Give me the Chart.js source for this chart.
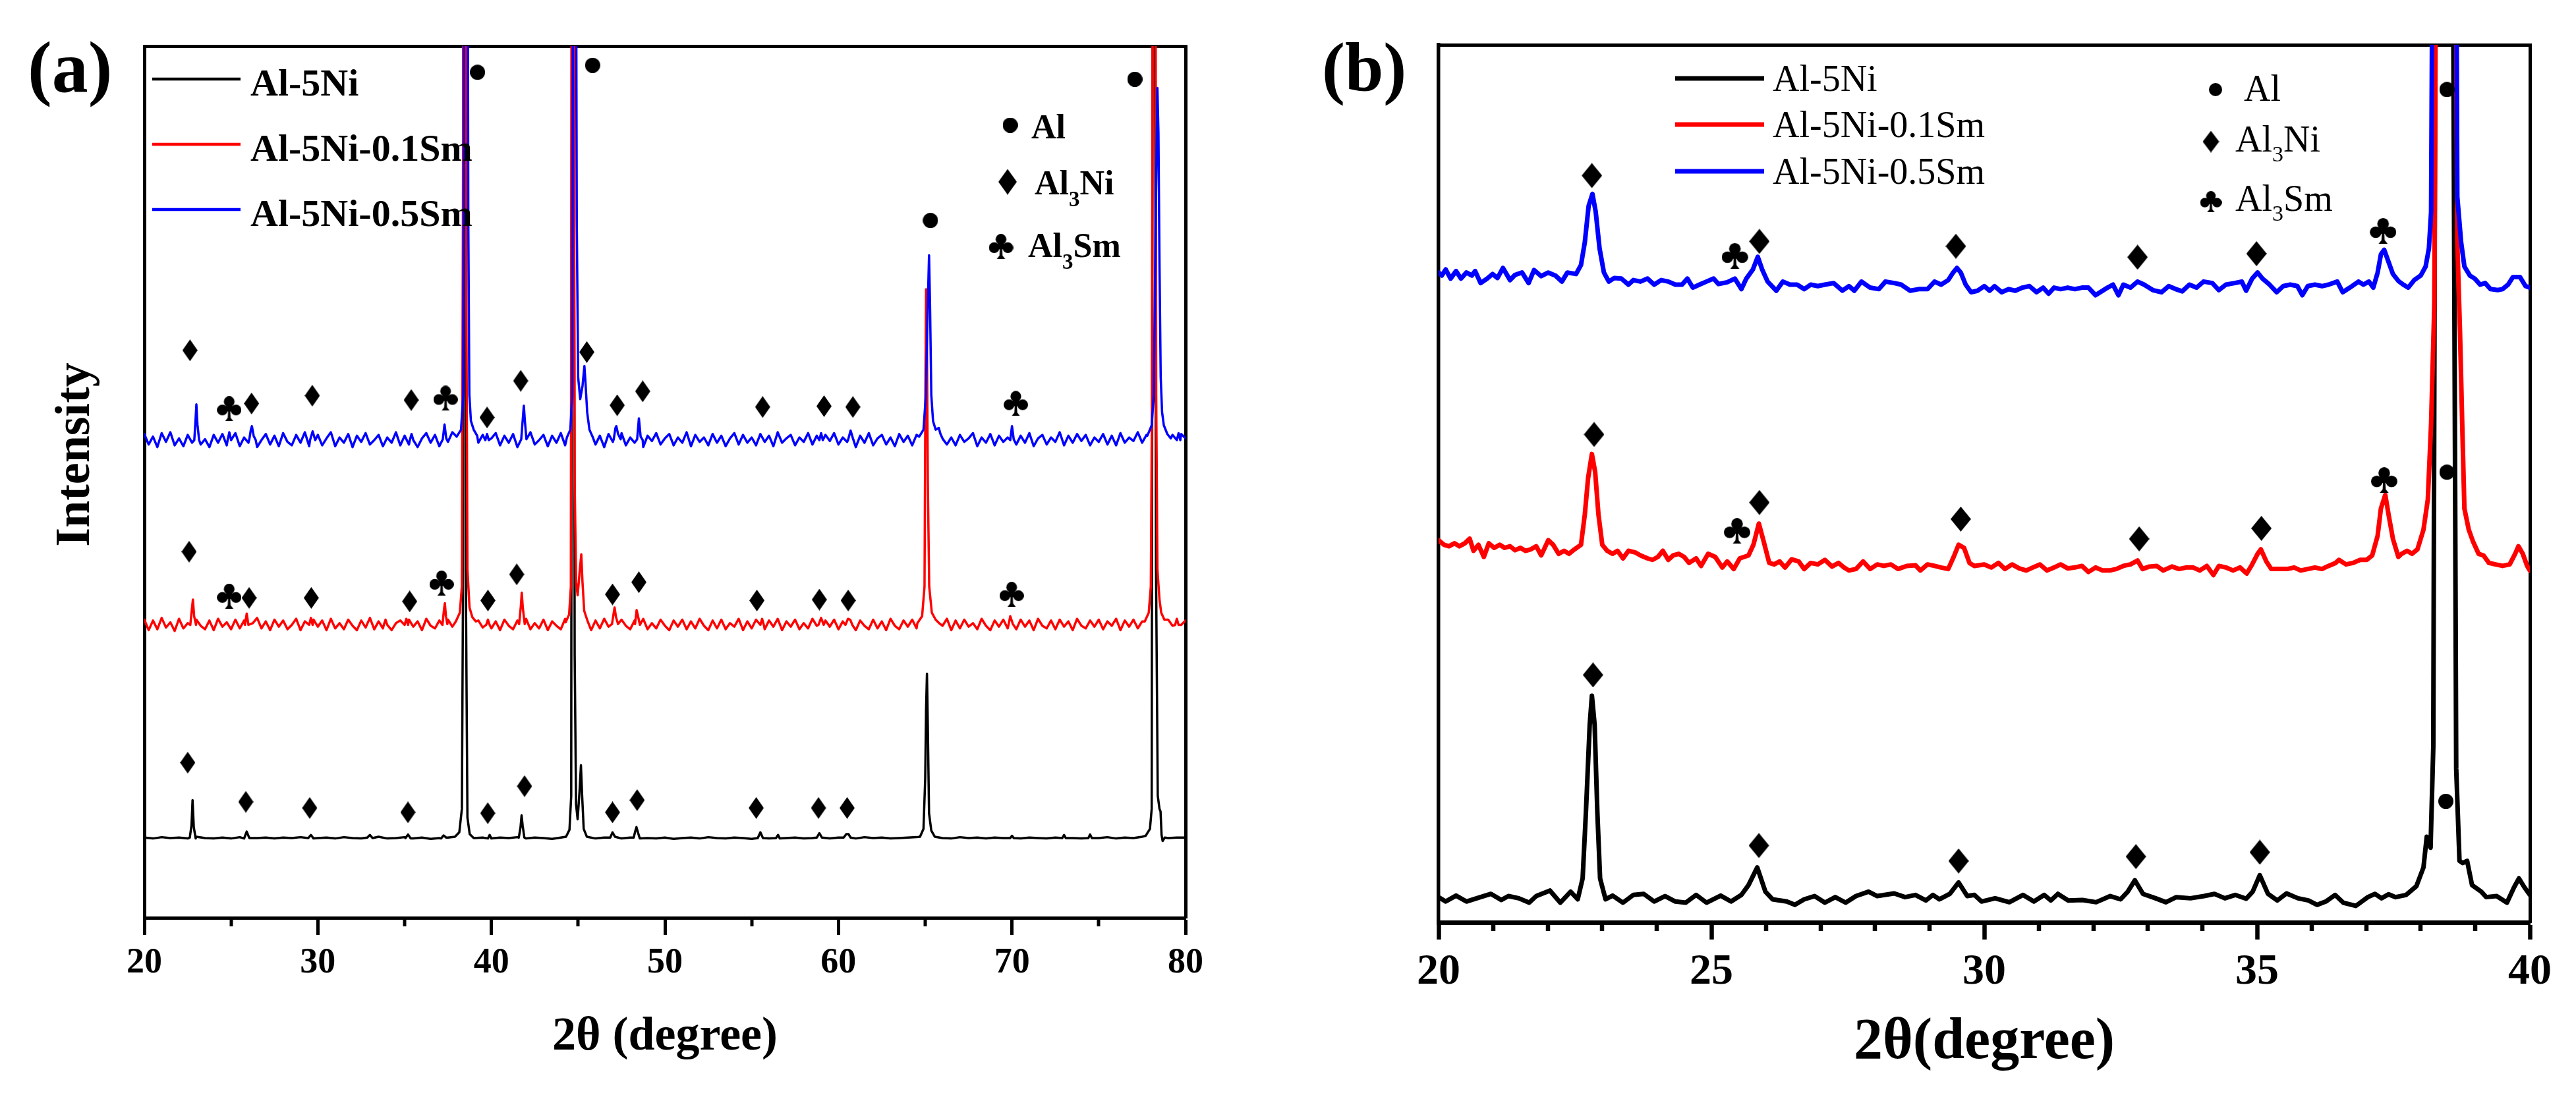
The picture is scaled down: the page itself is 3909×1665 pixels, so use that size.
<!DOCTYPE html>
<html lang="en">
<head>
<meta charset="UTF-8">
<title>XRD patterns Al-5Ni-xSm</title>
<script src="https://cdn.jsdelivr.net/npm/chart.js@4.4.1/dist/chart.umd.min.js"></script>
<style>
  html, body { margin: 0; padding: 0; background: #fff; }
  .panel { position: absolute; top: 0; height: 1665px; }
  #wrapA { left: 0; width: 1950px; }
  #wrapB { left: 1950px; width: 1959px; }
</style>
</head>
<body>
<div class="panel" id="wrapA"><canvas id="chartA"></canvas></div>
<div class="panel" id="wrapB"><canvas id="chartB"></canvas></div>
<script>
// ---------- panel (a): 20-80 deg, baselines read every 0.25 deg (black every 0.5 deg)
const seriesNames = ['Al-5Ni', 'Al-5Ni-0.1Sm', 'Al-5Ni-0.5Sm'];
const ticksA = [20, 30, 40, 50, 60, 70, 80];
const minorA = [25, 35, 45, 55, 65, 75];

const blueBaseA = [
  55.5,54.3,55.2,54.0,55.6,54.6,55.7,54.2,55.0,54.1,55.4,54.5,55.8,54.3,54.9,54.0,55.4,54.5,55.5,54.2,
  55.0,55.6,54.1,55.1,54.5,55.7,54.0,54.8,55.5,54.3,55.3,54.1,55.6,54.6,54.2,55.4,54.5,55.7,54.1,55.0,
  55.4,54.2,55.0,55.7,54.1,55.1,54.5,55.5,54.0,55.3,54.6,55.6,54.3,54.8,55.4,54.1,55.1,54.5,55.7,54.2,
  55.3,54.3,55.5,54.0,55.0,55.6,54.5,55.4,54.1,55.1,54.6,55.7,54.2,55.0,55.5,54.3,55.1,54.5,55.4,54.1,
  55.0,55.6,54.2,55.3,54.5,55.5,54.0,55.1,54.6,55.7,54.3,54.8,55.4,54.1,55.3,54.5,55.6,54.2,55.1,54.6,
  55.4,54.1,55.0,55.7,54.3,55.3,54.0,55.5,54.6,55.0,55.6,54.2,55.1,54.5,55.5,54.0,55.3,54.7,55.6,54.3,
  55.0,55.5,54.2,55.1,54.5,55.7,54.1,55.4,54.6,55.1,54.2,55.5,54.5,55.3,54.1,55.0,55.6,54.3,55.4,54.5,
  55.1,54.2,55.5,54.6,55.3,54.1,55.7,54.5,55.0,55.4,54.2,55.1,54.6,55.6,54.3,55.3,54.1,55.4,54.7,55.6,
  54.3,55.1,54.6,55.5,54.0,55.3,54.5,55.6,54.2,55.0,55.4,54.3,55.1,54.1,55.5,54.6,55.3,54.2,55.4,54.7,
  55.6,55.0,55.4,54.5,55.5,54.3,55.1,54.2,55.4,54.6,55.0,55.6,54.1,55.1,54.5,55.5,54.2,55.3,54.6,55.1,
  55.5,54.3,55.3,54.5,55.6,54.1,55.0,55.4,54.3,55.1,54.6,55.7,54.2,55.3,54.5,55.5,54.7,55.4,54.2,55.1,
  54.6,55.5,54.3,55.3,54.2,55.6,54.5,55.1,54.7,55.7,54.5,55.4,55.0,55.5,54.8,55.8,54.6,55.4,54.7,55.5,
  55.0
];
const redBaseA = [
  34.2,33.0,34.1,33.1,34.4,33.3,33.9,32.9,34.3,33.2,33.8,33.0,34.2,33.5,33.1,34.1,33.0,34.3,33.4,33.9,
  33.1,34.2,33.2,34.1,32.9,33.8,34.4,33.2,34.0,33.0,34.2,33.4,34.1,33.1,33.6,34.3,33.0,34.0,33.2,34.2,
  33.4,34.1,33.0,34.3,33.2,33.8,33.1,34.2,33.5,33.0,34.1,33.3,34.4,33.1,34.0,33.2,34.2,33.0,33.8,34.1,
  33.1,34.2,33.4,34.0,33.0,34.3,33.5,33.2,34.1,33.1,34.2,33.4,33.8,33.0,34.3,33.5,33.1,34.1,33.3,34.2,
  33.2,34.0,33.0,34.2,33.5,33.1,34.1,33.4,34.3,33.1,33.8,33.2,34.2,33.0,34.0,33.5,33.1,34.3,33.4,34.1,
  33.1,34.2,33.5,33.0,34.1,33.2,34.3,33.4,34.0,33.0,34.2,33.5,33.1,34.1,33.4,34.3,33.1,33.8,33.2,34.2,
  33.5,33.0,34.1,33.4,34.2,33.1,34.0,33.2,34.3,33.5,33.0,34.1,33.2,34.2,33.1,33.8,33.4,34.3,33.0,34.0,
  33.2,34.2,33.5,33.1,34.1,33.4,34.3,33.0,34.0,33.4,34.2,33.1,33.8,33.2,34.3,33.5,33.0,34.1,33.4,34.2,
  33.1,34.0,33.4,34.3,33.0,34.1,33.5,33.1,34.2,33.2,34.0,33.0,34.3,33.5,33.1,34.1,33.4,34.2,33.2,34.0,
  33.4,34.2,33.1,34.0,33.5,34.3,33.0,34.1,33.2,34.2,33.4,33.8,33.1,34.3,33.5,33.0,34.1,33.4,34.2,33.2,
  34.0,33.1,34.2,33.4,34.1,33.0,34.3,33.5,33.2,34.1,33.1,34.2,33.4,34.0,33.0,34.3,33.5,33.2,34.1,33.4,
  34.2,33.1,34.0,33.5,34.3,33.0,34.1,33.4,34.2,33.2,34.0,33.1,34.3,33.5,34.1,33.2,34.2,33.5,34.4,33.6,
  34.1
];
const blackBaseA = [
  9.2,9.1,9.25,9.15,9.2,9.1,9.3,9.15,9.1,9.2,9.1,9.25,9.05,9.15,9.2,9.1,9.2,9.15,9.25,9.1,
  9.15,9.2,9.1,9.25,9.15,9.1,9.2,9.3,9.1,9.15,9.25,9.1,9.2,9.05,9.15,9.2,9.1,9.25,9.15,9.2,
  9.1,9.2,9.15,9.25,9.1,9.2,9.15,9.05,9.2,9.1,9.15,9.25,9.1,9.2,9.15,9.1,9.2,9.25,9.15,9.1,
  9.2,9.05,9.15,9.2,9.1,9.25,9.15,9.1,9.2,9.15,9.05,9.2,9.1,9.25,9.15,9.2,9.1,9.15,9.25,9.1,
  9.2,9.15,9.1,9.25,9.15,9.2,9.1,9.15,9.2,9.25,9.1,9.2,9.15,9.1,9.25,9.15,9.2,9.1,9.2,9.15,
  9.25,9.1,9.2,9.15,9.1,9.2,9.25,9.15,9.1,9.2,9.15,9.25,9.1,9.2,9.15,9.3,9.2,9.25,9.15,9.2,
  9.2
];

// peaks of panel (a): each group is a run of [2theta, intensity]
const blackPeaksA = [
  [[22.62,9.2],[22.72,10.6],[22.78,13.5],[22.85,10.4],[22.96,9.1]],
  [[25.75,9.1],[25.9,9.9],[26.05,9.15]],
  [[29.45,9.15],[29.6,9.5],[29.75,9.1]],
  [[32.85,9.2],[33.0,9.5],[33.15,9.15]],
  [[35.05,9.15],[35.2,9.55],[35.35,9.1]],
  [[37.1,9.1],[37.25,9.45],[37.4,9.2]],
  [[37.9,9.3],[38.15,9.8],[38.3,12.5],[38.37,40],[38.41,130],[38.49,130],[38.54,35],[38.62,11.5],[38.75,9.6],[38.95,9.2]],
  [[39.8,9.1],[39.9,9.5],[40.0,9.1]],
  [[41.58,9.2],[41.68,10.4],[41.74,11.75],[41.8,10.6],[41.9,9.2]],
  [[44.3,9.3],[44.5,10.1],[44.6,14],[44.65,130],[44.73,130],[44.8,30],[44.88,13],[44.97,11.3],[45.08,14.5],[45.16,17.5],[45.23,14],[45.32,10.2],[45.5,9.3]],
  [[46.85,9.2],[46.98,9.8],[47.12,9.3]],
  [[48.2,9.2],[48.3,10.0],[48.36,10.4],[48.43,9.9],[48.55,9.1]],
  [[55.35,9.15],[55.5,9.8],[55.65,9.15]],
  [[56.4,9.15],[56.52,9.5],[56.62,9.1]],
  [[58.75,9.2],[58.9,9.7],[59.05,9.2]],
  [[60.3,9.2],[60.45,9.6],[60.58,9.6],[60.7,9.2]],
  [[64.7,9.3],[64.9,10.2],[65.0,16],[65.05,24],[65.1,28],[65.15,22],[65.22,12],[65.35,10],[65.55,9.3]],
  [[69.9,9.15],[70.0,9.4],[70.1,9.15]],
  [[72.9,9.15],[73.0,9.5],[73.1,9.15]],
  [[74.4,9.15],[74.5,9.55],[74.6,9.15]],
  [[77.7,9.4],[77.95,10.2],[78.05,12.5],[78.12,130],[78.22,130],[78.3,40],[78.4,14],[78.5,12.5],[78.56,12.2],[78.62,9.5],[78.68,8.8],[78.8,9.2]]
];
const redPeaksA = [
  [[22.65,33.6],[22.74,35.4],[22.8,36.5],[22.87,34.6],[22.98,33.6]],
  [[25.8,33.6],[25.9,34.9],[26.0,33.6]],
  [[29.5,33.6],[29.6,34.4],[29.7,33.6]],
  [[33.8,33.6],[33.9,34.2],[34.0,33.6]],
  [[35.0,33.6],[35.1,34.3],[35.2,33.6]],
  [[37.18,33.6],[37.27,35.4],[37.32,36.1],[37.38,34.6],[37.46,33.7]],
  [[37.95,34.0],[38.18,35.0],[38.3,38],[38.36,80],[38.4,130],[38.52,130],[38.56,70],[38.62,40],[38.74,35.6],[38.9,34.5],[39.1,34.0]],
  [[39.7,33.6],[39.8,34.2],[39.9,33.6]],
  [[41.6,33.7],[41.7,35.8],[41.75,37.3],[41.81,35.6],[41.92,33.7]],
  [[44.28,33.9],[44.48,34.8],[44.58,38],[44.63,130],[44.73,130],[44.8,50],[44.88,38.5],[44.97,37],[45.1,40],[45.18,41.7],[45.25,38.5],[45.35,35.2],[45.55,34.0]],
  [[46.95,33.7],[47.05,35.0],[47.1,35.6],[47.18,34.5],[47.3,33.7]],
  [[48.28,33.7],[48.37,35.3],[48.45,34.6],[48.56,33.6]],
  [[55.5,33.6],[55.6,34.3],[55.7,33.6]],
  [[58.85,33.6],[59.0,34.4],[59.15,33.6]],
  [[60.4,33.6],[60.55,34.3],[60.68,34.2],[60.8,33.6]],
  [[64.55,33.8],[64.82,34.6],[64.96,38],[65.01,60],[65.05,72.1],[65.09,68],[65.15,50],[65.23,38],[65.38,35],[65.6,34.2],[65.8,33.8]],
  [[69.8,33.6],[69.9,34.6],[70.05,33.7]],
  [[77.65,34.0],[77.88,35.0],[78.0,38],[78.07,60],[78.12,130],[78.26,130],[78.31,60],[78.38,40],[78.5,36.5],[78.6,35.0],[78.78,34.2]],
  [[79.4,33.6],[79.5,34.3],[79.6,33.6]]
];
const bluePeaksA = [
  [[22.88,54.8],[22.96,57.4],[23.0,58.9],[23.06,56.6],[23.16,54.8]],
  [[24.8,54.8],[24.9,55.7],[25.0,54.8]],
  [[26.05,54.9],[26.14,56.0],[26.2,56.4],[26.3,55.3],[26.42,54.8]],
  [[29.55,54.8],[29.7,55.8],[29.85,54.8]],
  [[35.3,54.8],[35.4,55.5],[35.5,54.8]],
  [[37.2,54.9],[37.3,56.6],[37.4,55.0]],
  [[38.0,55.2],[38.25,56.0],[38.38,60],[38.45,130],[38.62,130],[38.67,80],[38.73,60],[38.82,57],[38.98,56],[39.18,55.3]],
  [[39.65,54.8],[39.75,55.5],[39.85,54.8]],
  [[41.72,54.9],[41.82,57.5],[41.87,58.75],[41.93,57.0],[42.02,54.9]],
  [[44.35,55.1],[44.55,56],[44.66,60],[44.72,130],[44.86,130],[44.92,80],[45.0,62],[45.12,59.5],[45.25,61],[45.36,63.3],[45.42,61.5],[45.52,58],[45.65,56],[45.85,55.1]],
  [[47.05,54.9],[47.15,56.2],[47.2,56.4],[47.3,55.5],[47.45,54.9]],
  [[48.4,54.9],[48.5,57.3],[48.6,55.2],[48.72,54.8]],
  [[58.9,54.8],[59.0,55.6],[59.1,54.8]],
  [[60.55,54.8],[60.7,55.9],[60.85,54.9]],
  [[64.65,55.2],[64.9,56.0],[65.04,60],[65.12,68],[65.22,76],[65.28,70],[65.35,60],[65.45,57],[65.6,56],[65.78,56.2],[65.88,55.5],[66.02,54.9]],
  [[69.9,54.8],[70.0,56.4],[70.1,54.9]],
  [[77.8,55.3],[78.05,56.5],[78.17,60],[78.28,80],[78.38,95.2],[78.44,90],[78.5,75],[78.57,62],[78.65,58],[78.75,56.5],[78.95,55.5],[79.15,55.0]],
  [[79.5,54.8],[79.6,55.6],[79.7,54.8]]
];

// phase markers of panel (a)
const dotsA = [[39.2,97.0],[45.83,97.8],[65.3,80.0],[77.08,96.2]];
const diamondsA = [
  [22.63,65.1],[26.18,59.0],[29.68,59.9],[35.38,59.4],[39.75,57.4],[41.69,61.6],[45.5,64.9],[47.25,58.8],[48.72,60.4],[55.63,58.6],[59.17,58.7],[60.83,58.6],
  [22.58,42.0],[26.04,36.7],[29.62,36.7],[35.29,36.3],[39.8,36.4],[41.46,39.4],[46.98,37.1],[48.5,38.5],[55.3,36.4],[58.9,36.5],[60.56,36.4],
  [22.5,17.8],[25.85,13.3],[29.53,12.6],[35.19,12.1],[39.79,12.0],[41.91,15.1],[46.98,12.1],[48.4,13.5],[55.26,12.6],[58.85,12.6],[60.5,12.6]
];
const clubsA = [[24.89,58.4],[37.36,59.6],[70.22,59.0],[24.89,36.9],[37.13,38.4],[69.98,37.1]];

// ---------- panel (b): 20-40 deg
const ticksB = [20, 25, 30, 35, 40];
const minorB = [21,22,23,24,26,27,28,29,31,32,33,34,36,37,38,39];

const blackB = [
  [20.00,2.88],[20.13,2.38],[20.32,3.05],[20.51,2.38],[20.70,2.75],[20.96,3.25],[21.15,2.55],[21.28,3.00],[21.47,2.75],[21.66,2.25],
  [21.79,3.00],[22.04,3.63],[22.23,2.25],[22.42,3.50],[22.55,2.63],[22.64,5.01],[22.70,12.51],[22.77,22.52],[22.81,25.83],[22.86,22.52],
  [22.91,12.51],[22.96,5.01],[23.06,2.63],[23.19,3.05],[23.38,2.25],[23.57,3.13],[23.76,3.25],[23.95,2.38],[24.15,3.00],[24.34,2.38],
  [24.53,2.25],[24.72,3.13],[24.91,2.25],[25.17,3.05],[25.36,2.38],[25.55,3.13],[25.68,4.25],[25.84,6.26],[25.99,3.50],[26.12,2.63],
  [26.38,2.38],[26.53,2.00],[26.70,2.63],[26.89,3.00],[27.08,2.25],[27.27,2.88],[27.46,2.25],[27.65,3.00],[27.88,3.50],[28.04,3.00],
  [28.35,3.30],[28.55,2.88],[28.74,3.13],[28.93,2.50],[29.06,3.13],[29.18,2.63],[29.37,3.25],[29.53,4.55],[29.69,3.00],[29.82,3.13],
  [29.95,2.38],[30.20,2.75],[30.46,2.30],[30.71,3.13],[30.91,2.38],[31.10,3.13],[31.22,2.50],[31.35,3.25],[31.54,2.50],[31.80,2.55],
  [32.05,2.30],[32.31,3.00],[32.50,2.63],[32.63,3.50],[32.76,4.80],[32.91,3.25],[33.14,2.75],[33.33,2.30],[33.52,2.88],[33.78,2.75],
  [34.03,3.00],[34.22,3.25],[34.41,2.75],[34.60,3.13],[34.80,2.70],[34.92,3.50],[35.05,5.38],[35.20,3.25],[35.37,2.50],[35.54,3.30],
  [35.75,2.75],[35.94,2.50],[36.10,2.00],[36.26,2.38],[36.43,3.13],[36.58,2.25],[36.81,1.88],[37.03,2.88],[37.16,3.25],[37.28,2.75],
  [37.41,3.20],[37.54,2.88],[37.73,3.13],[37.92,4.13],[38.05,6.26],[38.11,9.76],[38.18,8.51],[38.23,20.02],[38.28,130],[38.58,130],
  [38.65,17.52],[38.71,7.01],[38.77,6.76],[38.85,7.01],[38.94,4.25],[39.11,3.50],[39.20,2.88],[39.39,3.00],[39.58,2.25],[39.71,4.00],
  [39.80,5.01],[39.90,4.00],[40.00,3.13]
];
const redB = [
  [20.00,43.55],[20.10,43.03],[20.19,42.86],[20.29,43.20],[20.38,42.86],[20.48,43.20],[20.57,43.72],[20.64,42.34],[20.73,43.03],[20.83,41.65],
  [20.92,43.20],[21.02,42.68],[21.12,43.03],[21.21,42.68],[21.31,42.86],[21.40,42.41],[21.50,42.68],[21.59,42.34],[21.69,42.51],[21.79,42.86],
  [21.88,41.82],[22.01,43.55],[22.10,43.03],[22.20,42.00],[22.30,42.34],[22.39,42.00],[22.49,42.51],[22.61,43.03],[22.68,46.48],[22.74,50.61],
  [22.81,53.37],[22.87,51.30],[22.93,46.48],[23.00,43.03],[23.09,42.34],[23.19,42.00],[23.28,42.34],[23.38,41.48],[23.48,42.34],[23.60,42.17],
  [23.70,41.82],[23.83,41.48],[23.92,41.31],[24.02,41.65],[24.11,42.34],[24.21,41.31],[24.30,41.82],[24.40,42.00],[24.50,41.65],[24.59,40.96],
  [24.72,41.48],[24.81,40.62],[24.94,42.00],[25.07,41.65],[25.20,40.44],[25.29,41.13],[25.41,40.27],[25.52,41.48],[25.68,41.82],[25.77,43.03],
  [25.87,45.44],[25.96,43.37],[26.06,40.96],[26.15,40.79],[26.25,41.13],[26.35,40.44],[26.47,41.37],[26.60,41.13],[26.70,40.27],[26.82,40.96],
  [26.95,40.79],[27.08,41.31],[27.21,40.55],[27.33,40.96],[27.43,40.44],[27.52,40.10],[27.65,40.27],[27.78,41.13],[27.91,40.27],[28.04,40.79],
  [28.16,40.62],[28.29,40.79],[28.42,40.27],[28.58,40.62],[28.74,40.69],[28.83,40.10],[28.96,40.79],[29.09,40.62],[29.21,40.44],[29.34,40.27],
  [29.44,41.65],[29.53,43.03],[29.63,42.68],[29.73,40.96],[29.82,40.62],[30.00,40.79],[30.13,40.44],[30.26,40.96],[30.38,40.27],[30.51,40.79],
  [30.64,40.34],[30.77,40.10],[30.89,40.44],[31.02,40.79],[31.15,40.10],[31.28,40.44],[31.40,40.79],[31.53,40.34],[31.66,40.44],[31.79,40.62],
  [31.91,39.93],[32.04,40.44],[32.17,40.10],[32.30,40.10],[32.42,40.27],[32.55,40.62],[32.68,40.79],[32.81,41.24],[32.90,40.27],[33.03,40.55],
  [33.16,40.62],[33.28,40.10],[33.44,40.55],[33.57,40.27],[33.70,40.44],[33.83,40.44],[33.95,40.10],[34.08,40.62],[34.20,39.58],[34.30,40.62],
  [34.43,40.44],[34.56,40.10],[34.69,40.44],[34.81,39.75],[34.91,40.79],[35.01,42.00],[35.07,42.51],[35.17,41.13],[35.26,40.27],[35.42,40.27],
  [35.55,40.27],[35.68,40.44],[35.80,40.10],[35.93,40.27],[36.06,40.44],[36.19,40.27],[36.31,40.62],[36.44,40.96],[36.50,41.31],[36.63,40.79],
  [36.76,40.96],[36.89,41.31],[37.01,41.31],[37.11,41.82],[37.21,44.06],[37.27,47.17],[37.35,48.72],[37.41,46.48],[37.49,43.72],[37.59,41.65],
  [37.65,42.00],[37.75,42.34],[37.84,42.00],[37.94,42.51],[38.05,44.75],[38.13,48.20],[38.19,56.82],[38.25,70.60],[38.29,130],[38.63,130],
  [38.67,77.50],[38.72,67.16],[38.76,56.82],[38.80,47.17],[38.88,44.75],[38.96,43.37],[39.06,42.00],[39.15,41.82],[39.25,40.96],[39.37,40.79],
  [39.50,40.62],[39.63,40.79],[39.73,42.00],[39.79,42.86],[39.87,42.00],[39.95,40.62],[40.00,40.10]
];
const blueB = [
  [20.00,74.05],[20.06,73.71],[20.13,74.40],[20.22,73.36],[20.32,74.22],[20.41,73.36],[20.51,74.05],[20.61,73.71],[20.67,74.22],[20.77,72.85],
  [20.89,73.36],[20.99,73.88],[21.08,73.43],[21.18,74.57],[21.31,73.19],[21.40,73.78],[21.53,74.05],[21.65,72.85],[21.75,74.33],[21.88,73.64],
  [22.01,74.05],[22.14,73.71],[22.26,73.02],[22.36,74.05],[22.52,73.88],[22.61,74.91],[22.68,77.50],[22.75,81.64],[22.82,83.01],[22.88,80.95],
  [22.95,76.81],[23.03,74.05],[23.12,73.02],[23.22,73.43],[23.35,73.36],[23.48,72.67],[23.57,73.19],[23.70,73.02],[23.83,73.36],[23.95,72.67],
  [24.08,73.19],[24.21,73.02],[24.34,72.67],[24.46,72.67],[24.56,73.36],[24.66,72.33],[24.78,72.67],[24.91,73.02],[25.04,73.36],[25.13,72.74],
  [25.29,72.95],[25.43,73.36],[25.55,72.16],[25.64,73.36],[25.76,74.40],[25.85,75.84],[25.93,74.40],[26.03,73.02],[26.19,71.98],[26.31,73.02],
  [26.44,72.67],[26.57,72.67],[26.70,72.16],[26.82,72.67],[26.95,72.50],[27.08,72.67],[27.24,72.85],[27.40,71.98],[27.52,72.50],[27.62,71.98],
  [27.75,73.02],[27.91,72.33],[28.07,72.16],[28.19,73.02],[28.35,72.85],[28.48,72.67],[28.64,71.98],[28.80,72.16],[28.96,72.16],[29.09,73.02],
  [29.21,72.67],[29.34,73.19],[29.43,74.05],[29.50,74.57],[29.57,74.05],[29.66,72.67],[29.76,71.81],[29.88,71.98],[30.00,72.50],[30.10,71.98],
  [30.19,72.50],[30.32,71.81],[30.45,72.16],[30.57,71.98],[30.70,72.33],[30.83,72.50],[30.96,71.81],[31.08,72.33],[31.18,71.64],[31.28,72.33],
  [31.40,72.16],[31.53,72.33],[31.66,72.16],[31.79,72.33],[31.91,72.33],[32.04,71.47],[32.17,71.98],[32.26,72.33],[32.36,72.67],[32.46,71.47],
  [32.55,72.67],[32.68,72.33],[32.81,73.02],[32.93,72.67],[33.09,72.05],[33.25,71.81],[33.38,72.50],[33.51,72.16],[33.63,71.91],[33.76,72.67],
  [33.89,72.33],[34.02,73.02],[34.18,72.85],[34.30,72.05],[34.43,72.67],[34.59,72.85],[34.72,73.02],[34.80,71.98],[34.91,73.36],[35.01,74.05],
  [35.10,73.36],[35.23,72.67],[35.36,71.81],[35.48,72.50],[35.61,72.67],[35.74,72.50],[35.83,71.47],[35.93,72.50],[36.06,72.67],[36.19,72.50],
  [36.31,72.67],[36.47,73.02],[36.57,71.81],[36.70,72.33],[36.86,73.02],[36.95,72.67],[37.05,73.02],[37.13,72.33],[37.21,74.05],[37.27,76.12],
  [37.33,76.64],[37.40,75.43],[37.49,73.88],[37.59,73.09],[37.68,72.67],[37.77,72.33],[37.88,73.19],[38.00,73.71],[38.09,74.74],[38.15,76.81],
  [38.19,80.95],[38.23,130],[38.64,130],[38.67,82.67],[38.74,77.50],[38.80,74.74],[38.90,73.71],[38.99,73.36],[39.09,72.67],[39.18,72.85],
  [39.28,72.16],[39.41,72.05],[39.50,72.16],[39.60,72.67],[39.69,73.54],[39.82,73.54],[39.92,72.50],[40.00,72.33]
];

const dotsB = [[38.48,94.9],[38.48,51.3],[38.46,13.8]];
const diamondsB = [
  [22.81,85.1],[25.88,77.6],[29.48,77.05],[32.81,75.8],[34.99,76.2],
  [22.85,55.6],[25.88,47.85],[29.57,45.96],[32.84,43.7],[35.08,44.9],
  [22.83,28.2],[25.87,8.76],[29.53,7.0],[32.78,7.5],[35.05,8.0]
];
const clubsB = [[25.43,75.95],[37.31,78.8],[25.47,44.6],[37.33,50.4]];

const phaseNames = [['Al'], ['Al', '3', 'Ni'], ['Al', '3', 'Sm']];

// ---------- helpers
const SERIF = "'Liberation Serif', 'Times New Roman', serif";
const COLORS = ['#000000', '#ff0000', '#0000ff'];

function makeMark(kind, w, h) {
  const c = document.createElement('canvas');
  c.width = w; c.height = h;
  const g = c.getContext('2d');
  g.fillStyle = '#000';
  const blob = (x, y, r) => { g.beginPath(); g.arc(x, y, r, 0, Math.PI * 2); g.fill(); };
  if (kind === 'diamond') {
    g.beginPath();
    g.moveTo(w / 2, 0); g.lineTo(w, h / 2); g.lineTo(w / 2, h); g.lineTo(0, h / 2);
    g.closePath(); g.fill();
  } else if (kind === 'dot') {
    g.beginPath(); g.ellipse(w / 2, h / 2, w / 2, h / 2, 0, 0, Math.PI * 2); g.fill();
  } else {
    const r = w * 0.22;
    blob(w / 2, r, r);
    blob(r, h * 0.55, r);
    blob(w - r, h * 0.55, r);
    blob(w / 2, h * 0.47, r * 0.7);
    g.beginPath();
    g.moveTo(w / 2 - w * 0.04, h * 0.5);
    g.lineTo(w / 2 + w * 0.04, h * 0.5);
    g.lineTo(w / 2 + w * 0.06, h * 0.86);
    g.lineTo(w / 2 + w * 0.17, h);
    g.lineTo(w / 2 - w * 0.17, h);
    g.lineTo(w / 2 - w * 0.06, h * 0.86);
    g.closePath(); g.fill();
  }
  return c;
}

// baseline grid + peak runs -> one sorted trace
function buildTrace(base, step, peaks) {
  const pts = [];
  base.forEach((y, i) => {
    const x = 20 + i * step;
    const inPeak = peaks.some(p => x >= p[0][0] && x <= p[p.length - 1][0]);
    if (!inPeak) pts.push({ x, y });
  });
  peaks.forEach(p => p.forEach(([x, y]) => pts.push({ x, y })));
  return pts.sort((a, b) => a.x - b.x);
}
const toXY = arr => arr.map(([x, y]) => ({ x, y }));

function traceSet(label, data, color, width, order) {
  return {
    label, data, showLine: true, borderColor: color, backgroundColor: color,
    borderWidth: width, pointRadius: 0, tension: 0, order,
    borderJoinStyle: 'round', borderCapStyle: 'round'
  };
}
function markSet(label, data, img) {
  return { label, data: toXY(data), showLine: false, pointStyle: img, pointRadius: 12, order: 0 };
}

function frameAxis(pos, size) {
  const s = {
    type: 'linear', position: pos, min: 0, max: 1,
    ticks: { display: false },
    grid: { drawOnChartArea: false, drawTicks: false },
    border: { color: '#000', width: 5 }
  };
  if (pos === 'top') s.afterFit = a => { a.height = size; };
  else s.afterFit = a => { a.width = size; };
  return s;
}

// minor ticks, panel letter, y title and the two legends
function decor(cfg) {
  return {
    id: 'decor',
    afterDraw(chart) {
      const ctx = chart.ctx;
      const xs = chart.scales.x;
      ctx.save();
      ctx.strokeStyle = '#000';
      ctx.lineWidth = cfg.minorWidth;
      cfg.minor.forEach(v => {
        const px = Math.round(xs.getPixelForValue(v));
        ctx.beginPath();
        ctx.moveTo(px, xs.top);
        ctx.lineTo(px, xs.top + cfg.minorLen);
        ctx.stroke();
      });
      ctx.fillStyle = '#000';
      ctx.textAlign = 'left';
      ctx.textBaseline = 'alphabetic';
      ctx.font = cfg.label.font;
      ctx.fillText(cfg.label.text, cfg.label.x, cfg.label.y);
      if (cfg.yTitle) {
        ctx.save();
        ctx.translate(cfg.yTitle.x, cfg.yTitle.y);
        ctx.rotate(-Math.PI / 2);
        ctx.textAlign = 'center';
        ctx.textBaseline = 'middle';
        ctx.font = cfg.yTitle.font;
        ctx.fillText(cfg.yTitle.text, 0, 0);
        ctx.restore();
      }
      const sl = cfg.series;
      seriesNames.forEach((name, i) => {
        const y = sl.y[i];
        ctx.strokeStyle = COLORS[i];
        ctx.lineWidth = sl.lineWidth;
        ctx.beginPath();
        ctx.moveTo(sl.x1, y);
        ctx.lineTo(sl.x2, y);
        ctx.stroke();
        ctx.font = sl.font;
        ctx.fillText(name, sl.textX, y + sl.dy);
      });
      const ph = cfg.phases;
      phaseNames.forEach((parts, i) => {
        const img = ph.imgs[i];
        ctx.drawImage(img, ph.cx[i] - img.width / 2, ph.cy[i] - img.height / 2);
        let x = ph.textX[i];
        parts.forEach((t, k) => {
          const sub = k === 1;
          ctx.font = sub ? ph.subFont : ph.font;
          ctx.fillText(t, x, ph.base[i] + (sub ? ph.subDy : 0));
          x += ctx.measureText(t).width;
        });
      });
      ctx.restore();
    }
  };
}

const baseOptions = {
  responsive: true, maintainAspectRatio: false, animation: false, devicePixelRatio: 1,
  events: [],
  layout: { padding: 0 },
  plugins: { legend: { display: false }, tooltip: { enabled: false } }
};

// ---------- chart (a)
const diaA = makeMark('diamond', 23, 33);
const dotA = makeMark('dot', 23, 23);
const clubA = makeMark('club', 37, 38);

new Chart(document.getElementById('chartA'), {
  type: 'scatter',
  data: {
    datasets: [
      traceSet(seriesNames[0], buildTrace(blackBaseA, 0.5, blackPeaksA), COLORS[0], 3.5, 3),
      traceSet(seriesNames[1], buildTrace(redBaseA, 0.25, redPeaksA), COLORS[1], 3.5, 2),
      traceSet(seriesNames[2], buildTrace(blueBaseA, 0.25, bluePeaksA), COLORS[2], 3.5, 1),
      markSet('Al', dotsA, dotA),
      markSet('Al3Ni', diamondsA, diaA),
      markSet('Al3Sm', clubsA, clubA)
    ]
  },
  options: {
    ...baseOptions,
    scales: {
      x: {
        type: 'linear', position: 'bottom', min: 20, max: 80,
        afterBuildTicks: s => { s.ticks = ticksA.map(v => ({ value: v })); },
        ticks: { color: '#000', padding: 11, maxRotation: 0, autoSkip: false,
                 font: { family: SERIF, weight: 'bold', size: 54 } },
        grid: { drawOnChartArea: false, tickLength: 26, tickWidth: 5, tickColor: '#000' },
        border: { color: '#000', width: 5 },
        title: { display: true, text: '2θ (degree)', color: '#000',
                 font: { family: SERIF, weight: 'bold', size: 72 }, padding: { top: 0, bottom: 47 } },
        afterFit: s => { s.height = 272; }
      },
      xTop: frameAxis('top', 70),
      y: {
        type: 'linear', position: 'left', min: 0, max: 100,
        ticks: { display: false },
        grid: { drawOnChartArea: false, drawTicks: false },
        border: { color: '#000', width: 5 },
        afterFit: s => { s.width = 219; }
      },
      yRight: frameAxis('right', 151)
    }
  },
  plugins: [decor({
    minor: minorA, minorLen: 13, minorWidth: 5,
    label: { text: '(a)', x: 42, y: 139, font: `bold 110px ${SERIF}` },
    yTitle: { text: 'Intensity', x: 116, y: 690, font: `bold 74px ${SERIF}` },
    series: { x1: 231, x2: 365, textX: 380, y: [120, 219, 318], dy: 25, lineWidth: 4.5,
              font: `bold 58px ${SERIF}` },
    phases: { imgs: [makeMark('dot', 23, 23), makeMark('diamond', 28, 39), makeMark('club', 37, 38)],
              cx: [1533, 1529, 1519], cy: [190, 276, 374], textX: [1565, 1570, 1560],
              base: [210, 295, 390], font: `bold 52px ${SERIF}`, subFont: `bold 33px ${SERIF}`, subDy: 18 }
  })]
});

// ---------- chart (b)
const diaB = makeMark('diamond', 31, 38);
const dotB = makeMark('dot', 23, 23);
const clubB = makeMark('club', 40, 39);

new Chart(document.getElementById('chartB'), {
  type: 'scatter',
  data: {
    datasets: [
      traceSet(seriesNames[0], toXY(blackB), COLORS[0], 7, 3),
      traceSet(seriesNames[1], toXY(redB), COLORS[1], 7, 2),
      traceSet(seriesNames[2], toXY(blueB), COLORS[2], 7, 1),
      markSet('Al', dotsB, dotB),
      markSet('Al3Ni', diamondsB, diaB),
      markSet('Al3Sm', clubsB, clubB)
    ]
  },
  options: {
    ...baseOptions,
    scales: {
      x: {
        type: 'linear', position: 'bottom', min: 20, max: 40,
        afterBuildTicks: s => { s.ticks = ticksB.map(v => ({ value: v })); },
        ticks: { color: '#000', padding: 10, maxRotation: 0, autoSkip: false,
                 font: { family: SERIF, weight: 'bold', size: 66 } },
        grid: { drawOnChartArea: false, tickLength: 26, tickWidth: 6.5, tickColor: '#000' },
        border: { color: '#000', width: 7 },
        title: { display: true, text: '2θ(degree)', color: '#000',
                 font: { family: SERIF, weight: 'bold', size: 88 }, padding: { top: 0, bottom: 29 } },
        afterFit: s => { s.height = 265; }
      },
      xTop: frameAxis('top', 68),
      y: {
        type: 'linear', position: 'left', min: 0, max: 100,
        ticks: { display: false },
        grid: { drawOnChartArea: false, drawTicks: false },
        border: { color: '#000', width: 5.5 },
        afterFit: s => { s.width = 233; }
      },
      yRight: frameAxis('right', 70)
    }
  },
  plugins: [decor({
    minor: minorB, minorLen: 13, minorWidth: 6.5,
    label: { text: '(b)', x: 56, y: 138, font: `bold 105px ${SERIF}` },
    series: { x1: 592, x2: 727, textX: 740, y: [119, 189, 260], dy: 19, lineWidth: 7,
              font: `56px ${SERIF}` },
    phases: { imgs: [makeMark('dot', 20, 20), makeMark('diamond', 25, 33), makeMark('club', 33, 32)],
              cx: [1412, 1405, 1405], cy: [136, 215, 306], textX: [1455, 1442, 1442],
              base: [153, 230, 320], font: `56px ${SERIF}`, subFont: `34px ${SERIF}`, subDy: 15 }
  })]
});
</script>
</body>
</html>
